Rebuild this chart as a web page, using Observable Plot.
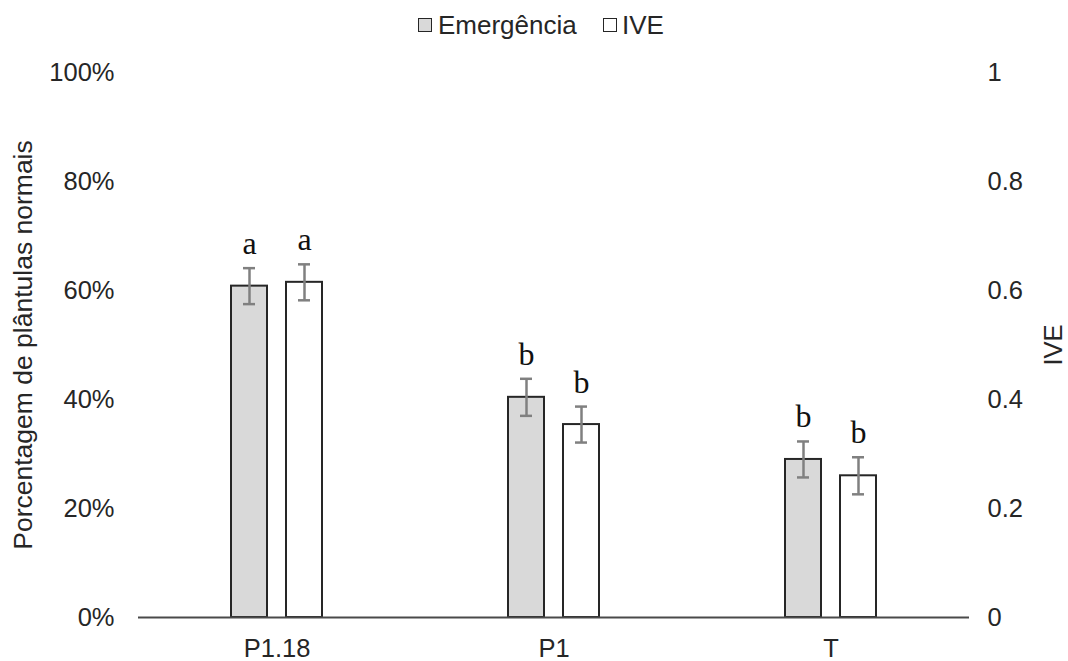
<!DOCTYPE html>
<html>
<head>
<meta charset="utf-8">
<script src="https://cdn.jsdelivr.net/npm/d3@7"></script>
<script src="https://cdn.jsdelivr.net/npm/@observablehq/plot@0.6"></script>
<style>
  html, body { margin: 0; padding: 0; background: #fff; }
  body { width: 1068px; height: 661px; overflow: hidden; font-family: "Liberation Sans", Arial, sans-serif; color: #262626; }
  #legend { position: relative; height: 55px; }
  .sw { position: absolute; top: 18px; width: 12px; height: 12px; border: 1.6px solid #262626; }
  .lbl { position: absolute; top: 12px; white-space: nowrap; line-height: 1; }
</style>
</head>
<body>
<div id="legend"></div>
<div id="chart"></div>
<script>
const categories = ["P1.18", "P1", "T"];
const seriesNames = ["Emergência", "IVE"];
const emergencia = [0.608, 0.404, 0.290];
const ive = [0.615, 0.354, 0.260];
const emergenciaErr = [0.033, 0.034, 0.033];
const iveErr = [0.033, 0.033, 0.034];
const emergenciaLetters = ["a", "b", "b"];
const iveLetters = ["a", "b", "b"];
const yTicks = [0, 0.2, 0.4, 0.6, 0.8, 1];
const seriesFill = ["#d9d9d9", "#ffffff"];

const rows = [];
categories.forEach((c, i) => {
  rows.push({cat: c, series: seriesNames[0], value: emergencia[i], err: emergenciaErr[i], letter: emergenciaLetters[i]});
  rows.push({cat: c, series: seriesNames[1], value: ive[i], err: iveErr[i], letter: iveLetters[i]});
});

// legend (HTML, above the SVG)
const legend = document.getElementById("legend");
const legendPos = [{sw: 418, lbl: 438}, {sw: 603, lbl: 622}];
seriesNames.forEach((s, i) => {
  const sw = document.createElement("div");
  sw.className = "sw";
  sw.style.left = legendPos[i].sw + "px";
  sw.style.background = seriesFill[i];
  legend.appendChild(sw);
  const lb = document.createElement("div");
  lb.className = "lbl";
  lb.style.left = legendPos[i].lbl + "px";
  lb.style.fontSize = "26px";
  lb.textContent = s;
  legend.appendChild(lb);
});

const chart = Plot.plot({
  width: 1068,
  height: 606,
  marginLeft: 137,
  marginRight: 98,
  marginTop: 17,
  marginBottom: 44,
  style: {fontFamily: "'Liberation Sans', Arial, sans-serif", fontSize: "25.5px", color: "#262626", background: "white"},
  fx: {domain: categories, padding: 0},
  x: {domain: seriesNames, paddingInner: 0.345, paddingOuter: 1.69, axis: null},
  y: {domain: [0, 1]},
  color: {domain: seriesNames, range: seriesFill},
  marks: [
    Plot.axisY({ticks: yTicks, tickFormat: d3.format(".0%"), tickSize: 0, tickPadding: 24, fontSize: 25.5, color: "#262626",
      label: null}),
    Plot.axisY({ticks: [], tickSize: 0, fontSize: 26.5, color: "#262626",
      label: "Porcentagem de plântulas normais", labelAnchor: "center", labelOffset: 125, labelArrow: "none"}),
    Plot.axisY({anchor: "right", ticks: yTicks, tickFormat: d3.format("~g"), tickSize: 0, tickPadding: 18, fontSize: 25.5, color: "#262626",
      label: "IVE", labelAnchor: "center", labelOffset: 92, labelArrow: "none"}),
    Plot.axisFx({anchor: "bottom", tickSize: 0, tickPadding: 21, fontSize: 25.5, color: "#262626", label: null}),
    Plot.barY(rows, {fx: "cat", x: "series", y: "value", fill: "series", stroke: "#262626", strokeWidth: 2}),
    Plot.ruleY([0], {stroke: "#4a4a4a", strokeWidth: 2.2}),
    Plot.ruleX(rows, {fx: "cat", x: "series", y1: d => d.value - d.err, y2: d => d.value + d.err, stroke: "#808080", strokeWidth: 2.5}),
    Plot.tickY(rows, {fx: "cat", x: "series", y: d => d.value - d.err, stroke: "#808080", strokeWidth: 2.5, insetLeft: 12, insetRight: 12}),
    Plot.tickY(rows, {fx: "cat", x: "series", y: d => d.value + d.err, stroke: "#808080", strokeWidth: 2.5, insetLeft: 12, insetRight: 12}),
    Plot.text(rows, {fx: "cat", x: "series", y: d => d.value + d.err, text: "letter", dy: -14, lineAnchor: "bottom",
      fontFamily: "'Liberation Serif', 'Times New Roman', serif", fontSize: 32, fill: "#111"})
  ]
});
document.getElementById("chart").appendChild(chart);
</script>
</body>
</html>
